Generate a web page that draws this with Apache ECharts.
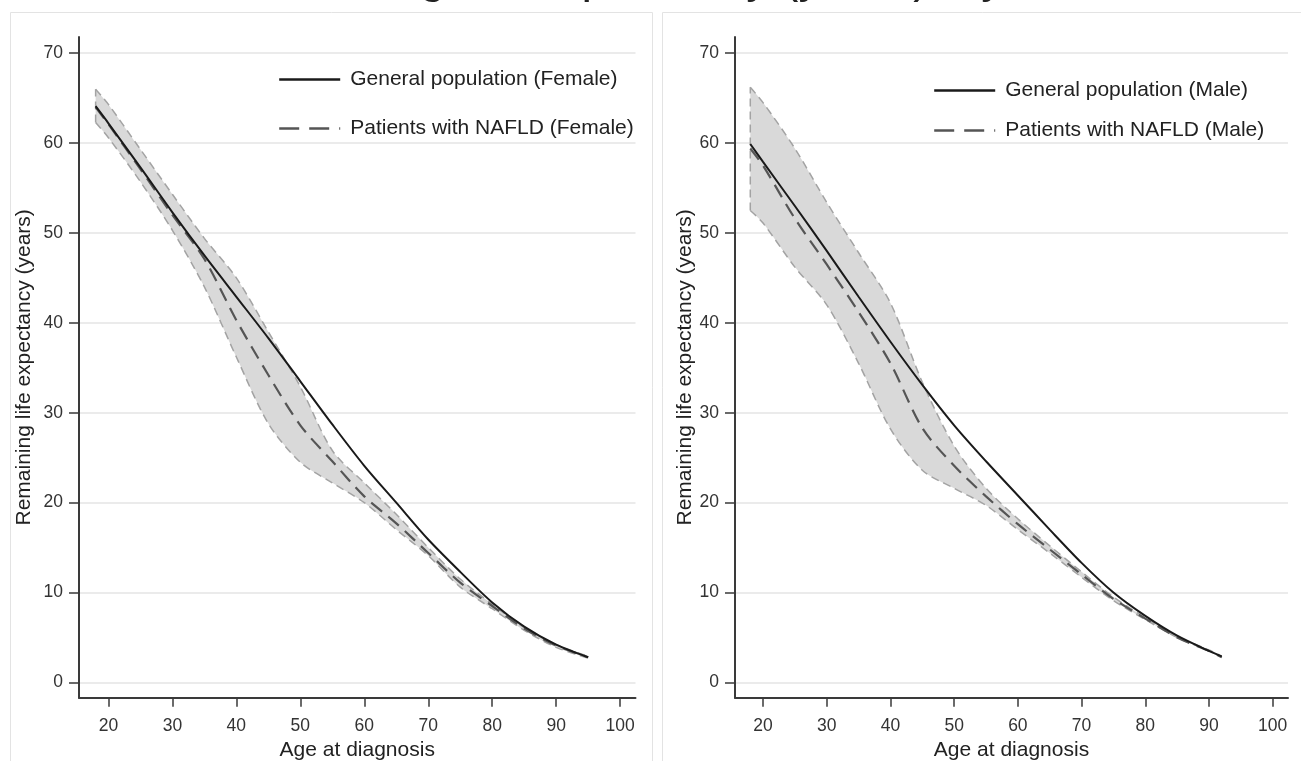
<!DOCTYPE html>
<html>
<head>
<meta charset="utf-8">
<script src="https://cdn.jsdelivr.net/npm/echarts@6/dist/echarts.min.js"></script>
<style>
html,body{margin:0;padding:0;background:#fff;}
#chart{width:1301px;height:761px;}
</style>
</head>
<body>
<div id="chart"></div>
<script>
// ---------- text ----------
const titleText = 'Remaining life expectancy (years), by sex';
const xAxisName = 'Age at diagnosis';
const yAxisName = 'Remaining life expectancy (years)';
const xTickValues = [20, 30, 40, 50, 60, 70, 80, 90, 100];
const yTickValues = [0, 10, 20, 30, 40, 50, 60, 70];
const legendFemale = ['General population (Female)', 'Patients with NAFLD (Female)'];
const legendMale = ['General population (Male)', 'Patients with NAFLD (Male)'];

// ---------- Female panel ----------
const agesFemale       = [18, 20, 25, 30, 35, 40, 45, 50, 55, 60, 65, 70, 75, 80, 85, 90, 95];
const generalFemale    = [64.1, 62.2, 57.3, 52.3, 47.5, 42.9, 38.3, 33.5, 28.7, 24.1, 20.0, 15.9, 12.3, 8.9, 6.2, 4.2, 2.8];
const naflFemale       = [64.0, 62.1, 57.1, 52.0, 47.1, 40.3, 34.2, 28.6, 24.6, 20.7, 17.7, 14.4, 11.1, 8.5, 6.0, 4.1, 2.8];
const naflFemaleLower  = [62.3, 60.6, 55.7, 50.3, 44.0, 36.2, 28.8, 24.5, 22.2, 20.0, 17.0, 14.1, 10.6, 8.2, 5.8, 3.9, 2.7];
const naflFemaleUpper  = [66.0, 64.3, 59.3, 54.3, 49.4, 45.0, 39.0, 32.9, 25.8, 22.2, 18.7, 15.0, 11.5, 8.7, 6.1, 4.2, 2.9];

// ---------- Male panel ----------
const agesMale         = [18, 20, 25, 30, 35, 40, 45, 50, 55, 60, 65, 70, 75, 80, 85, 90, 92];
const generalMale      = [59.9, 57.9, 53.0, 48.0, 42.9, 37.9, 33.1, 28.6, 24.6, 20.8, 17.0, 13.3, 10.0, 7.4, 5.2, 3.5, 2.9];
const naflMale         = [59.4, 57.5, 51.6, 46.5, 41.2, 35.5, 28.3, 24.1, 20.7, 17.6, 14.8, 12.0, 9.3, 7.1, 5.0, 3.5, 2.8];
const naflMaleLower    = [52.5, 51.1, 46.2, 42.0, 35.5, 28.2, 23.6, 21.6, 19.7, 17.0, 14.4, 11.7, 9.1, 7.0, 5.0, 3.5, 2.8];
const naflMaleUpper    = [66.2, 64.5, 59.4, 53.4, 47.8, 42.2, 33.4, 26.3, 21.6, 18.2, 15.2, 12.3, 9.5, 7.2, 5.1, 3.6, 2.9];

// ---------- styles ----------
const FONT = '"Liberation Sans", Arial, Helvetica, sans-serif';
const SMOOTH = 0.3;
const bandLine = { color: '#a3a3a3', width: 1.5, type: [8, 5] };

function panelSeries(ax, ages, gen, nafl, lo, hi, names, stackId) {
  const bandCommon = {
    type: 'line', xAxisIndex: ax, yAxisIndex: ax, stack: stackId, symbol: 'none',
    smooth: SMOOTH, encode: { x: 1, y: 0 }, silent: true, z: 2,
    lineStyle: bandLine
  };
  return [
    Object.assign({}, bandCommon, { name: stackId + ' lower', data: ages.map((a, i) => [lo[i], a]) }),
    Object.assign({}, bandCommon, { name: stackId + ' upper', data: ages.map((a, i) => [+(hi[i] - lo[i]).toFixed(3), a]),
      areaStyle: { color: '#d9d9d9', opacity: 1 } }),
    { type: 'line', xAxisIndex: ax, yAxisIndex: ax, symbol: 'none', silent: true, z: 2,
      data: [[ages[0], lo[0]], [ages[0], hi[0]]], lineStyle: bandLine },
    { type: 'line', name: names[1], xAxisIndex: ax, yAxisIndex: ax, symbol: 'none', smooth: SMOOTH, z: 3,
      data: ages.map((a, i) => [a, nafl[i]]), lineStyle: { color: '#555555', width: 2.2, type: [14, 8] } },
    { type: 'line', name: names[0], xAxisIndex: ax, yAxisIndex: ax, symbol: 'none', smooth: SMOOTH, z: 4,
      data: ages.map((a, i) => [a, gen[i]]), lineStyle: { color: '#1a1a1a', width: 2 } }
  ];
}

function xAxisCfg(gi, min, max, gap) {
  return {
    type: 'value', gridIndex: gi, min: min, max: max,
    name: xAxisName, nameLocation: 'middle', nameGap: gap,
    nameTextStyle: { fontSize: 21, color: '#222', fontFamily: FONT },
    axisLine: { show: true, onZero: false, lineStyle: { color: '#3a3a3a', width: 2 } },
    axisTick: { show: true, length: 9, lineStyle: { color: '#3a3a3a', width: 1.5 }, customValues: xTickValues },
    axisLabel: { fontSize: 17.5, color: '#333', fontFamily: FONT, margin: 19, customValues: xTickValues },
    splitLine: { show: false }
  };
}
function yAxisCfg(gi, gap) {
  return {
    type: 'value', gridIndex: gi, min: -1.7, max: 71.8,
    name: yAxisName, nameLocation: 'middle', nameGap: gap, nameRotate: 90,
    nameTextStyle: { fontSize: 21, color: '#222', fontFamily: FONT },
    axisLine: { show: true, onZero: false, lineStyle: { color: '#3a3a3a', width: 2 } },
    axisTick: { show: true, length: 10, lineStyle: { color: '#3a3a3a', width: 1.5 }, customValues: yTickValues },
    axisLabel: { fontSize: 17.5, color: '#333', fontFamily: FONT, margin: 16, customValues: yTickValues },
    splitLine: { show: true, lineStyle: { color: '#e4e4e4', width: 1.6 } }
  };
}
function legendCfg(left, top, gap, names) {
  return {
    orient: 'vertical', left: left, top: top, padding: 0, itemWidth: 61, itemHeight: 24, itemGap: gap,
    selectedMode: false,
    data: [{ name: names[0] }, { name: names[1], lineStyle: { type: [20, 10] } }],
    itemStyle: { opacity: 0 },
    lineStyle: { width: 2.4 },
    textStyle: { fontSize: 21, color: '#222', fontFamily: FONT, padding: [0, 0, 0, 5] }
  };
}

const chart = echarts.init(document.getElementById('chart'), null, { renderer: 'canvas' });
chart.setOption({
  animation: false,
  backgroundColor: '#ffffff',
  textStyle: { fontFamily: FONT },
  graphic: [
    { type: 'rect', silent: true, z: -10, shape: { x: 10.5, y: 12.5, width: 642, height: 800 },
      style: { fill: 'none', stroke: '#e3e3e3', lineWidth: 1 } },
    { type: 'rect', silent: true, z: -10, shape: { x: 662.5, y: 12.5, width: 700, height: 800 },
      style: { fill: 'none', stroke: '#e3e3e3', lineWidth: 1 } },
    { type: 'text', silent: true, x: 656, y: 3,
      style: { text: titleText, fontSize: 47, fontFamily: FONT, fill: '#222', align: 'center', verticalAlign: 'bottom' } }
  ],
  grid: [
    { left: 79, right: 665.5, top: 37, bottom: 63.3, containLabel: false, outerBoundsMode: 'none' },
    { left: 735, right: 13, top: 37, bottom: 63.3, containLabel: false, outerBoundsMode: 'none' }
  ],
  xAxis: [xAxisCfg(0, 15.4, 102.4, 42), xAxisCfg(1, 15.6, 102.4, 33)],
  yAxis: [yAxisCfg(0, 44), yAxisCfg(1, 38)],
  legend: [legendCfg(278, 69, 28, legendFemale), legendCfg(933, 80, 19, legendMale)],
  series: [].concat(
    panelSeries(0, agesFemale, generalFemale, naflFemale, naflFemaleLower, naflFemaleUpper, legendFemale, 'female'),
    panelSeries(1, agesMale, generalMale, naflMale, naflMaleLower, naflMaleUpper, legendMale, 'male')
  )
});
</script>
</body>
</html>
